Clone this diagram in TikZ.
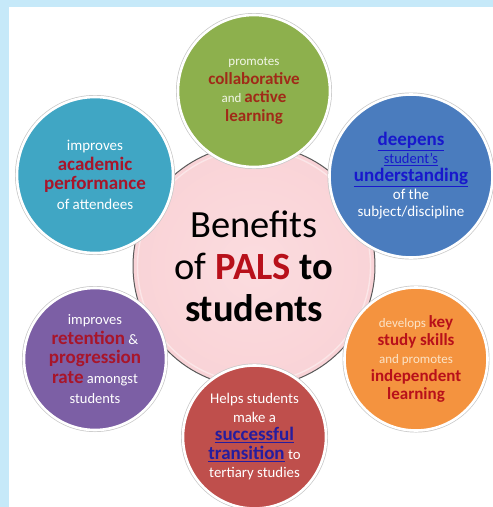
\documentclass[tikz,border=0pt]{standalone}
\usepackage{fontspec}
\setmainfont{Carlito}
\usetikzlibrary{shadings}
\definecolor{frameblue}{HTML}{C6E9F9}
\definecolor{cgreen}{HTML}{8DB04D}
\definecolor{cteal}{HTML}{40A6C4}
\definecolor{cblue}{HTML}{4A7CBE}
\definecolor{cpurple}{HTML}{7C5FA5}
\definecolor{corange}{HTML}{F4933F}
\definecolor{cred}{HTML}{BF4F4C}
\definecolor{hred}{HTML}{A8152A}
\definecolor{gred}{HTML}{A02A18}
\definecolor{ored}{HTML}{B8101A}
\definecolor{lblue}{HTML}{1818CC}
\definecolor{rblue}{HTML}{261C9E}
\definecolor{cream}{HTML}{FBE3C6}
\definecolor{pale}{HTML}{F2F6E8}
\definecolor{pinkin}{HTML}{FBDCDF}
\definecolor{pinkout}{HTML}{F4B9BF}
\definecolor{pinkring}{HTML}{FBE6E8}
\pgfdeclareradialshading{hubshade}{\pgfpoint{0bp}{0bp}}{color(0bp)=(pinkin); color(30bp)=(pinkin!70!pinkout); color(48bp)=(pinkout); color(50bp)=(pinkout)}
\newcommand\bw[2]{{\fontsize{#1}{#1}\selectfont\bfseries #2}}
\newcommand\rw[2]{{\fontsize{#1}{#1}\selectfont #2}}
\newcommand\ul[1]{\underline{#1}}
\tikzset{
  bubble/.style={circle, inner sep=0pt, minimum size=#1, draw=white, line width=2.6pt,
    preaction={draw=black!22, line width=4pt}, align=center, text=white},
  hub/.style={circle, inner sep=0pt, minimum size=242pt, draw=black!65, line width=1pt,
    shading=hubshade, align=center}
}
\begin{document}
\begin{tikzpicture}[x=1pt,y=-1pt]
\useasboundingbox (0,0) rectangle (493,507);
\clip (0,0) rectangle (493,507);
\fill[frameblue] (0,0) rectangle (493,507);
\fill[white] (9,7) rectangle (493,507);
% centre
\node[hub, font=\fontsize{38.5}{42}\selectfont] (hub) at (254,266)
  {Benefits\\ of \textbf{\textcolor{ored}{PALS}} \textbf{to}\\ \textbf{students}};
\draw[pinkring, line width=1.4pt] (hub.center) circle (116.5pt);
% satellites
\node[bubble=152pt, fill=cgreen, font=\fontsize{13}{18.5}\selectfont] (green) at (254,91)
  {\textcolor{pale}{promotes}\\
   \textcolor{gred}{\bw{17}{collaborative}}\\
   \textcolor{pale}{and} \textcolor{gred}{\bw{17}{active}}\\
   \textcolor{gred}{\bw{17}{learning}}};
\node[bubble=163pt, fill=cblue, font=\fontsize{15}{17.8}\selectfont] (blue) at (411,176)
  {\textcolor{lblue}{\bw{19}{\ul{deepens}}}\\
   \textcolor{lblue}{\rw{14.5}{\ul{student's}}}\\
   \textcolor{lblue}{\bw{19}{\ul{understanding}}}\\
   of the\\ subject/discipline};
\node[bubble=156pt, fill=cteal, font=\fontsize{15}{19.5}\selectfont] (teal) at (95,175)
  {improves\\
   \textcolor{hred}{\bw{19}{academic}}\\
   \textcolor{hred}{\bw{19}{performance}}\\
   of attendees};
\node[bubble=142pt, fill=cpurple, font=\fontsize{14.5}{19.7}\selectfont] (purple) at (95,359)
  {improves\\
   \textcolor{hred}{\bw{19}{retention}} \&\\
   \textcolor{hred}{\bw{19}{progression}}\\
   \textcolor{hred}{\bw{19}{rate}} amongst\\
   students};
\node[bubble=143pt, fill=corange, font=\fontsize{13}{17.8}\selectfont] (orange) at (416,359)
  {\textcolor{cream}{develops} \textcolor{ored}{\bw{17}{key}}\\
   \textcolor{ored}{\bw{17}{study skills}}\\
   \textcolor{cream}{and promotes}\\
   \textcolor{ored}{\bw{17}{independent}}\\
   \textcolor{ored}{\bw{17}{learning}}};
\node[bubble=143pt, fill=cred, font=\fontsize{14.8}{18.5}\selectfont] (red) at (254.5,437)
  {Helps students\\ make a\\
   \textcolor{rblue}{\bw{19}{\ul{successful}}}\\
   \textcolor{rblue}{\bw{19}{\ul{transition}}} to\\
   tertiary studies};
\end{tikzpicture}
\end{document}
